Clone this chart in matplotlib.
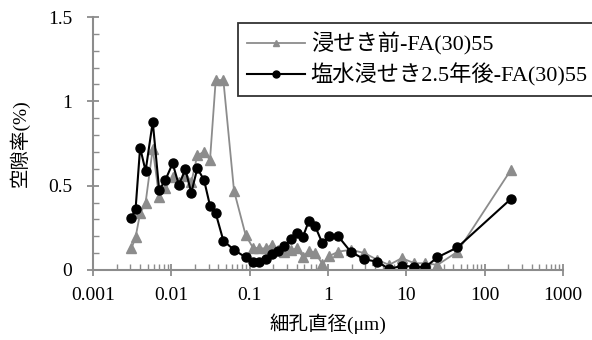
import numpy as np
import matplotlib.pyplot as plt
from matplotlib.ticker import LogLocator, MultipleLocator, FixedLocator

plt.rcParams['font.family'] = ['Liberation Serif', 'Noto Sans CJK JP', 'DejaVu Sans']

# 細孔直径 (µm)
diam = [0.0031, 0.0035, 0.004, 0.0047, 0.0058, 0.007, 0.0084, 0.0104, 0.0125,
        0.0151, 0.018, 0.0215, 0.0262, 0.0312, 0.0369, 0.0462, 0.0632, 0.0891,
        0.11, 0.133, 0.162, 0.191, 0.229, 0.278, 0.338, 0.4, 0.477, 0.569,
        0.684, 0.849, 1.04, 1.35, 1.95, 2.92, 4.27, 6.03, 8.75, 12.7, 17.4,
        25, 45, 216]

# 浸せき前
before = [0.128, 0.194, 0.336, 0.399, 0.72, 0.43, 0.484, 0.55, 0.52, 0.56,
          0.52, 0.68, 0.70, 0.652, 1.126, 1.126, 0.47, 0.205, 0.133, 0.128,
          0.128, 0.15, 0.118, 0.108, 0.118, 0.128, 0.079, 0.113, 0.103, 0.036,
          0.083, 0.108, 0.12, 0.1, 0.06, 0.03, 0.07, 0.04, 0.04, 0.03, 0.108,
          0.593]

# 塩水浸せき2.5年後
after = [0.31, 0.36, 0.725, 0.587, 0.879, 0.474, 0.533, 0.632, 0.504, 0.597,
         0.458, 0.603, 0.533, 0.381, 0.336, 0.174, 0.119, 0.075, 0.045, 0.049,
         0.065, 0.095, 0.113, 0.142, 0.182, 0.221, 0.194, 0.29, 0.261, 0.158,
         0.2, 0.2, 0.108, 0.063, 0.049, 0.006, 0.024, 0.02, 0.016, 0.075,
         0.134, 0.421]

labels = ['浸せき前-FA(30)55', '塩水浸せき2.5年後-FA(30)55']
xticklabels = ['0.001', '0.01', '0.1', '1', '10', '100', '1000']

gray = '#8c8c8c'

fig = plt.figure(figsize=(5.92, 3.4), dpi=100)
ax = fig.add_axes([0.157, 0.206, 0.794, 0.744])

ax.plot(diam, before, color=gray, lw=1.3, marker='^', ms=6.5,
        mec=gray, mfc=gray, label=labels[0])
ax.plot(diam, after, color='black', lw=1.5, marker='o', ms=6.5,
        mec='black', mfc='black', label=labels[1])

ax.set_xscale('log')
ax.set_xlim(0.001, 1000)
ax.set_ylim(0, 1.5)

ax.xaxis.set_major_locator(FixedLocator([10.0 ** k for k in range(-3, 4)]))
ax.set_xticklabels(xticklabels)
ax.xaxis.set_minor_locator(LogLocator(base=10, subs=np.arange(2, 10)))
ax.xaxis.set_minor_formatter(plt.NullFormatter())

ax.yaxis.set_major_locator(FixedLocator([0, 0.5, 1, 1.5]))
ax.set_yticklabels(['0', '0.5', '1', '1.5'])
ax.yaxis.set_minor_locator(MultipleLocator(0.1))

for s in ['top', 'right']:
    ax.spines[s].set_visible(False)
for s in ['left', 'bottom']:
    ax.spines[s].set_color(gray)
    ax.spines[s].set_linewidth(1.5)

ax.tick_params(which='major', direction='inout', length=8, width=1.3,
               color=gray, labelsize=14, labelcolor='black')
ax.tick_params(axis='x', which='major', pad=8)
ax.tick_params(axis='y', which='major', pad=11)
ax.tick_params(which='minor', direction='in', length=4, width=1.0, color=gray)

ax.set_xlabel('細孔直径(μm)', fontsize=14)
ax.set_ylabel('空隙率(%)', fontsize=14)
ax.xaxis.set_label_coords(0.5, -0.17)
ax.yaxis.set_label_coords(-0.135, 0.5)

leg = ax.legend(loc='upper left', bbox_to_anchor=(238 / 592, 1 - 23 / 340),
                bbox_transform=fig.transFigure, fontsize=16, frameon=True,
                fancybox=False, edgecolor='black', handlelength=2.6,
                borderpad=0.42, labelspacing=0.35, handletextpad=0.25,
                borderaxespad=0)
leg.get_frame().set_linewidth(1.3)
for h in leg.legend_handles:
    h.set_markersize(5)

fig.savefig('out.png', dpi=100)
